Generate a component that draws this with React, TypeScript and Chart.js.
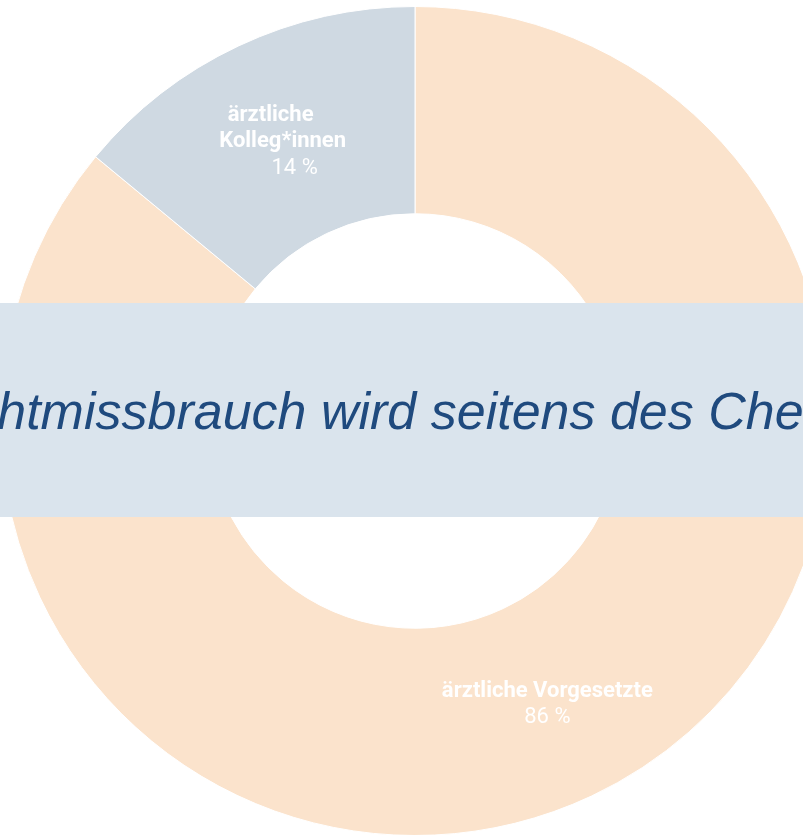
import React, { useEffect, useRef } from "react";
import { Chart, registerables } from "chart.js";

Chart.register(...registerables);

const categories = ["ärztliche Vorgesetzte", "ärztliche Kolleg*innen"];
const values = [86, 14];
const labelLines = [["ärztliche Vorgesetzte"], ["ärztliche", "Kolleg*innen"]];
const colors = ["#FBE3CC", "#CFD9E2"];
const bannerText = "Machtmissbrauch wird seitens des Chefs";

const labelPlugin = {
  id: "sliceLabels",
  afterDatasetsDraw(chart: any) {
    const meta = chart.getDatasetMeta(0);
    const ctx = chart.ctx;
    ctx.save();
    ctx.fillStyle = "#FFFFFF";
    ctx.textAlign = "center";
    ctx.textBaseline = "middle";
    meta.data.forEach((arc: any, i: number) => {
      const pos = arc.tooltipPosition();
      const lines = labelLines[i].map((t) => ({ t, bold: true }));
      lines.push({ t: values[i] + " %", bold: false });
      const lh = 26.5;
      const n = lines.length;
      const stagger = n > 2 ? 12 : 0;
      lines.forEach((ln, k) => {
        ctx.font = (ln.bold ? "bold " : "") + "22px Roboto";
        const dx = (k - (n - 1) / 2) * stagger;
        const dy = (k - (n - 1) / 2) * lh + 2;
        ctx.fillText(ln.t, pos.x + dx, pos.y + dy);
      });
    });
    ctx.restore();
  },
};

export default function App() {
  const ref = useRef<HTMLCanvasElement>(null);
  useEffect(() => {
    const chart = new Chart(ref.current!, {
      type: "doughnut",
      data: {
        labels: categories,
        datasets: [
          {
            data: values,
            backgroundColor: colors,
            borderColor: "#FFFFFF",
            borderWidth: 1,
          },
        ],
      },
      options: {
        responsive: false,
        animation: false,
        cutout: "50%",
        layout: { padding: 0 },
        plugins: { legend: { display: false }, tooltip: { enabled: false } },
      },
      plugins: [labelPlugin],
    });
    return () => chart.destroy();
  }, []);
  return (
    <div style={{ position: "fixed", left: 0, top: 0, width: 803, height: 835, overflow: "hidden", background: "#FFFFFF" }}>
      <canvas ref={ref} width={830} height={830} style={{ position: "absolute", left: 0, top: 6 }} />
      <div style={{ position: "absolute", left: 0, right: 0, top: 303, height: 214, background: "#DAE4ED", overflow: "hidden" }}>
        <span
          style={{
            position: "absolute",
            left: -101,
            top: 82,
            whiteSpace: "nowrap",
            fontFamily: "'Liberation Sans', Arial, sans-serif",
            fontStyle: "italic",
            fontSize: 52,
            lineHeight: "52px",
            color: "#1F4A7E",
          }}
        >
          {bannerText}
        </span>
      </div>
    </div>
  );
}
